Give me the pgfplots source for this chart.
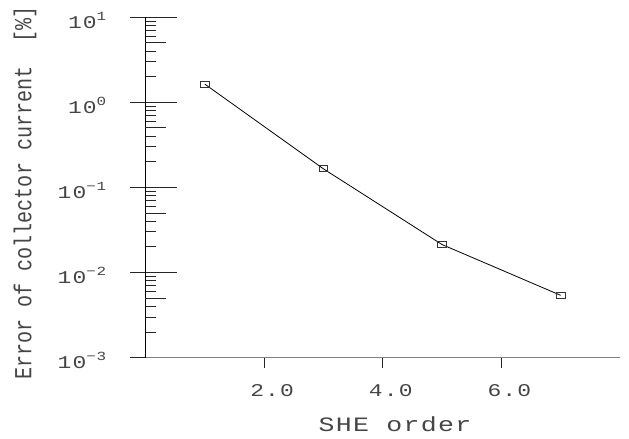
\documentclass[border=0pt]{standalone}
\usepackage{pgfplots}
\pgfplotsset{compat=1.18}
\usepackage{fontspec}
\setmainfont{Liberation Mono}
\newfontfamily\mono[LetterSpace=5]{Liberation Mono}
\definecolor{txt}{HTML}{454545}
\newcommand{\tl}[1]{\scalebox{1.28}[1]{\mono\fontsize{18}{18}\selectfont 10}\raisebox{8bp}{\scalebox{1.28}[1]{\mono\fontsize{12.5}{12.5}\selectfont #1}}}
\newcommand{\xl}[1]{\scalebox{1.28}[1]{\mono\fontsize{18}{18}\selectfont #1}}
\begin{document}
\begin{tikzpicture}
\begin{axis}[name=ax, scale only axis, width=474.5bp, height=340.7bp,
  xmin=0, xmax=8, ymode=log, ymin=1e-3, ymax=1e1,
  axis x line*=bottom, axis y line*=left,
  x axis line style={black!50, line width=1.2bp},
  y axis line style={black, line width=0.9bp},
  xtick={2,4,6}, xticklabels={\xl{2.0},\xl{4.0},\xl{6.0}}, xtick style={draw=none},
  ytick={1e-3,1e-2,1e-1,1,10},
  yticklabels={\tl{−3},\tl{−2},\tl{−1},\tl{0},\tl{1}},
  tick align=inside, major tick length=31bp, minor tick length=10.7bp,
  extra y ticks={5e-3,5e-2,0.5,5}, extra y tick labels={},
  extra y tick style={major tick length=21bp},
  tick style={black!85, line width=0.8bp},
  xticklabel style={anchor=center, inner sep=0pt, xshift=8bp, yshift=-33bp, text=txt},
  yticklabel style={anchor=east, inner sep=0pt, xshift=-39bp, yshift=-3bp, text=txt},
  xlabel={\scalebox{1.3}[1]{\mono\fontsize{20.5}{20.5}\selectfont SHE order}},
  xlabel style={at={(axis description cs:0.5258,-0.1946)}, anchor=center, text=txt, inner sep=0pt},
  ylabel={\scalebox{0.82}[1]{\fontsize{24.6}{24.6}\selectfont Error of collector current~~[\%]}},
  ylabel style={at={(axis description cs:-0.254,0.4834)}, anchor=center, text=txt, inner sep=0pt},
  clip=false]
\addplot[black, line width=0.8bp, mark=square, mark size=3bp,
  mark options={xscale=1.45, black!80, line width=0.8bp}]
  coordinates {(1,1.63) (3,0.165) (5,0.0213) (7,0.0054)};
\end{axis}
\begin{axis}[scale only axis, width=474.5bp, height=340.7bp,
  xmin=0, xmax=8, ymode=log, ymin=1e-3, ymax=1e1,
  axis x line=none, axis y line*=left, y axis line style={draw=none},
  ytick={1e-3,1e-2,1e-1,1,10}, yticklabels={},
  tick align=outside, major tick length=15bp, minor tick length=0pt,
  tick style={black!85, line width=0.8bp}]
\end{axis}
\begin{axis}[scale only axis, width=474.5bp, height=340.7bp,
  xmin=0, xmax=8, ymode=log, ymin=1e-3, ymax=1e1,
  axis y line=none, axis x line*=bottom, x axis line style={draw=none},
  xtick={2,4,6}, xticklabels={},
  tick align=outside, major tick length=10bp,
  tick style={black!85, line width=0.8bp}]
\end{axis}
\pgfresetboundingbox
\useasboundingbox (-145.5bp,-81.3bp) rectangle (483.5bp,357.7bp);
\end{tikzpicture}
\end{document}
